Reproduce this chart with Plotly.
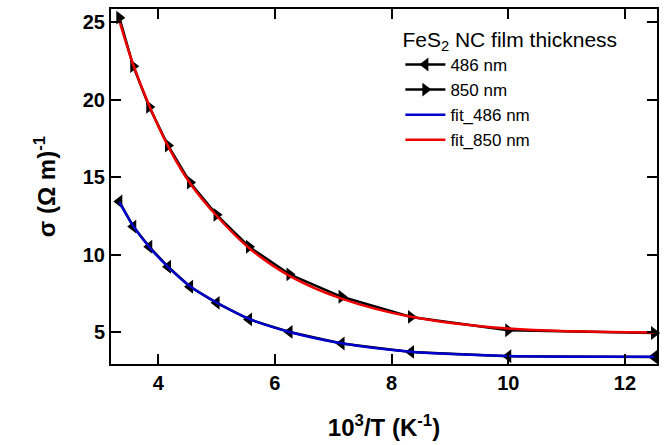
import plotly.graph_objects as go

inv_T = [3.333, 3.571, 3.846, 4.167, 4.545, 5.0, 5.556, 6.25, 7.143, 8.333, 10.0, 12.5]
sigma_486 = [13.42, 11.8, 10.5, 9.21, 7.92, 6.88, 5.81, 5.0, 4.25, 3.71, 3.43, 3.39]
sigma_850 = [25.29, 22.16, 19.53, 17.04, 14.65, 12.56, 10.5, 8.72, 7.27, 5.97, 5.11, 4.93]
fit_486 = [13.38, 11.85, 10.48, 9.2, 7.95, 6.9, 5.85, 5.0, 4.27, 3.72, 3.45, 3.4]
fit_850 = [25.1, 22.25, 19.6, 17.0, 14.6, 12.5, 10.42, 8.62, 7.15, 5.98, 5.22, 4.96]

fig = go.Figure()
fig.add_trace(go.Scatter(x=inv_T, y=sigma_486, name="486 nm", mode="lines+markers",
                         line=dict(color="black", width=2.5),
                         marker=dict(symbol="triangle-left", size=12, color="black"),
                         cliponaxis=False))
fig.add_trace(go.Scatter(x=inv_T, y=sigma_850, name="850 nm", mode="lines+markers",
                         line=dict(color="black", width=2.5),
                         marker=dict(symbol="triangle-right", size=12, color="black"),
                         cliponaxis=False))
fig.add_trace(go.Scatter(x=inv_T, y=fit_486, name="fit_486 nm", mode="lines",
                         line=dict(color="#0000cc", width=2.5, shape="spline")))
fig.add_trace(go.Scatter(x=inv_T, y=fit_850, name="fit_850 nm", mode="lines",
                         line=dict(color="#ee0000", width=2.5, shape="spline")))

axis_common = dict(showline=True, linecolor="black", linewidth=2, mirror="ticks",
                   ticks="inside", ticklen=10, tickwidth=2, tickcolor="black",
                   showgrid=False, zeroline=False,
                   tickfont=dict(family="Liberation Sans", size=20, color="black", weight="bold"))

fig.update_xaxes(range=[3.19, 12.55], tickvals=[4, 6, 8, 10, 12],
                 title=dict(text="10<sup>3</sup>/T (K<sup>-1</sup>)", standoff=26,
                            font=dict(family="Liberation Sans", size=24, color="black", weight="bold")),
                 **axis_common)
fig.update_yaxes(range=[2.93, 25.85], tickvals=[5, 10, 15, 20, 25],
                 title=dict(text="σ (Ω m)<sup>-1</sup>", standoff=20,
                            font=dict(family="Liberation Sans", size=24, color="black", weight="bold")),
                 **axis_common)

fig.update_layout(
    width=671, height=445,
    margin=dict(l=111, r=14, t=9, b=81, autoexpand=False),
    paper_bgcolor="white", plot_bgcolor="white",
    showlegend=True,
    legend=dict(x=0.53, y=0.97, xanchor="left", yanchor="top",
                bgcolor="rgba(255,255,255,0)",
                title=dict(text="FeS<sub>2</sub> NC film thickness",
                           font=dict(family="Liberation Sans", size=21, color="black")),
                font=dict(family="Liberation Sans", size=17, color="black"),
                tracegroupgap=0, itemwidth=40),
)

fig.write_html(
    "out.html",
    config={"displayModeBar": False},
    post_script="document.body.style.margin='0';document.documentElement.style.overflow='hidden';document.body.style.overflow='hidden';",
)
